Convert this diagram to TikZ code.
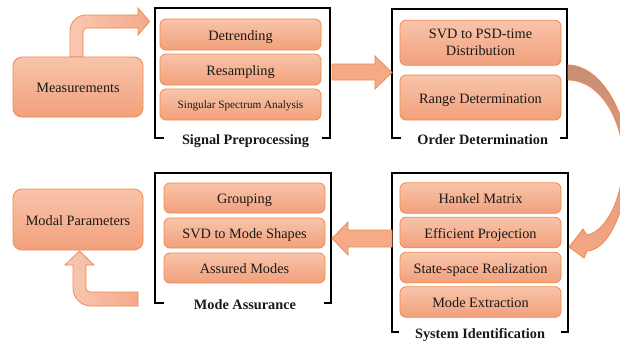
\documentclass[tikz,border=0pt]{standalone}
\usepackage{fontspec}
\setmainfont{Liberation Serif}
\definecolor{boxtop}{RGB}{248,196,170}
\definecolor{boxbot}{RGB}{242,160,124}
\definecolor{boxline}{RGB}{240,138,78}
\definecolor{arrfill}{RGB}{245,170,136}
\definecolor{arrlight}{RGB}{249,200,178}
\definecolor{arrdark}{RGB}{244,170,138}
\definecolor{curvtop}{RGB}{198,142,118}
\definecolor{curvbot}{RGB}{245,168,132}
\definecolor{txt}{RGB}{25,25,25}
\begin{document}
\begin{tikzpicture}[x=1pt,y=-1pt,
  ibox/.style={rectangle, rounded corners=6pt, draw=boxline, line width=0.8pt,
    top color=boxtop, bottom color=boxbot, minimum width=161pt, align=center,
    inner sep=0pt, text=txt, font=\fontsize{14.3}{17}\selectfont},
  oneline/.style={text height=11pt, text depth=0pt},
  bigbox/.style={ibox, oneline, rounded corners=9pt, minimum width=130pt},
  frameline/.style={line width=1.4pt, black},
  flabel/.style={anchor=base, font=\fontsize{14.3}{17}\selectfont\bfseries, text=txt, inner sep=0pt},
  blockarrow/.style={draw=boxline, line width=0.8pt, fill=arrfill, line join=miter},
]
\useasboundingbox (0,0) rectangle (620,340);
\fill[white] (0,0) rectangle (620,340);

% ---- bent arrows (behind boxes)
\draw[draw=boxline, line width=0.8pt, left color=arrlight, right color=arrdark]
  (70,57) -- (70,31) .. controls (70,22.2) and (77.2,15) .. (86,15) -- (138,15)
  -- (138,8) -- (149.5,21.5) -- (138,35) -- (138,28) -- (87,28)
  .. controls (84.8,28) and (83,29.8) .. (83,32) -- (83,57) -- cycle;
\draw[draw=boxline, line width=0.8pt, left color=arrlight, right color=arrdark]
  (138,292) -- (90,292) .. controls (87.8,292) and (86,290.2) .. (86,288)
  -- (86,265) -- (94,265) -- (79.5,251) -- (65,265) -- (73,265) -- (73,288)
  .. controls (73,297.9) and (81.1,306) .. (91,306) -- (138,306) -- cycle;

% ---- big boxes
\node[bigbox, minimum height=60pt] (meas) at (78,87) {Measurements};
\node[bigbox, minimum height=61pt] (modal) at (78,219.5) {Modal Parameters};

% ---- Signal Preprocessing
\draw[frameline] (164,138) -- (155,138) -- (155,8) -- (330,8) -- (330,138) -- (322,138);
\node[ibox, oneline, minimum height=31pt] (detr) at (240.5,34.5) {Detrending};
\node[ibox, oneline, minimum height=31pt] (resa) at (240.5,69.5) {Resampling};
\node[ibox, minimum height=31pt, font=\fontsize{11.2}{13}\selectfont, text height=7.8pt, text depth=0pt] (ssa) at (240.5,104.5) {Singular Spectrum Analysis};
\node[flabel] (lsp) at (245.5,144.5) {Signal Preprocessing};

% ---- Order Determination
\draw[frameline] (401,138) -- (392,138) -- (392,9) -- (567,9) -- (567,138) -- (560,138);
\node[ibox, minimum height=45pt] (svdpsd) at (480.5,42.8) {SVD to PSD-time\\Distribution};
\node[ibox, oneline, minimum height=45pt] (range) at (480.5,97.5) {Range Determination};
\node[flabel] (lod) at (482.7,144) {Order Determination};

% ---- Mode Assurance
\draw[frameline] (164,303) -- (155,303) -- (155,173) -- (331,173) -- (331,303) -- (324,303);
\node[ibox, oneline, minimum height=30pt] (grp) at (244.5,198) {Grouping};
\node[ibox, oneline, minimum height=30pt] (svdms) at (244.5,233) {SVD to Mode Shapes};
\node[ibox, oneline, minimum height=30pt] (assm) at (244.5,268) {Assured Modes};
\node[flabel] (lma) at (245,309) {Mode Assurance};

% ---- System Identification
\draw[frameline] (399,332) -- (392,332) -- (392,173) -- (568,173) -- (568,332) -- (561,332);
\node[ibox, oneline, minimum height=30.5pt] (hank) at (480.5,198) {Hankel Matrix};
\node[ibox, oneline, minimum height=30.5pt] (effp) at (480.5,232.5) {Efficient Projection};
\node[ibox, oneline, minimum height=30.5pt] (ssr) at (480.5,267.5) {State-space Realization};
\node[ibox, oneline, minimum height=30.5pt] (mext) at (480.5,302) {Mode Extraction};
\node[flabel] (lsi) at (480,338) {System Identification};

% ---- straight block arrows
\draw[blockarrow] (332,64) -- (375,64) -- (375,56) -- (392,72.5) -- (375,89) -- (375,80) -- (332,80) -- cycle;
\draw[blockarrow] (392,230) -- (348,230) -- (348,222) -- (332,238.5) -- (348,255) -- (348,247) -- (392,247) -- cycle;

% ---- curved arrow on the right
\draw[draw=boxline, line width=0.8pt, top color=curvtop, bottom color=curvbot]
  (568,65) .. controls (600,65) and (628,112) .. (628,160)
  .. controls (628,205) and (610,250) .. (587,251)
  -- (584,258) -- (569,247) -- (583,229) -- (587,235)
  .. controls (605,232) and (623,200) .. (623,160)
  .. controls (623,120) and (600,80) .. (568,80) -- cycle;
\end{tikzpicture}
\end{document}
